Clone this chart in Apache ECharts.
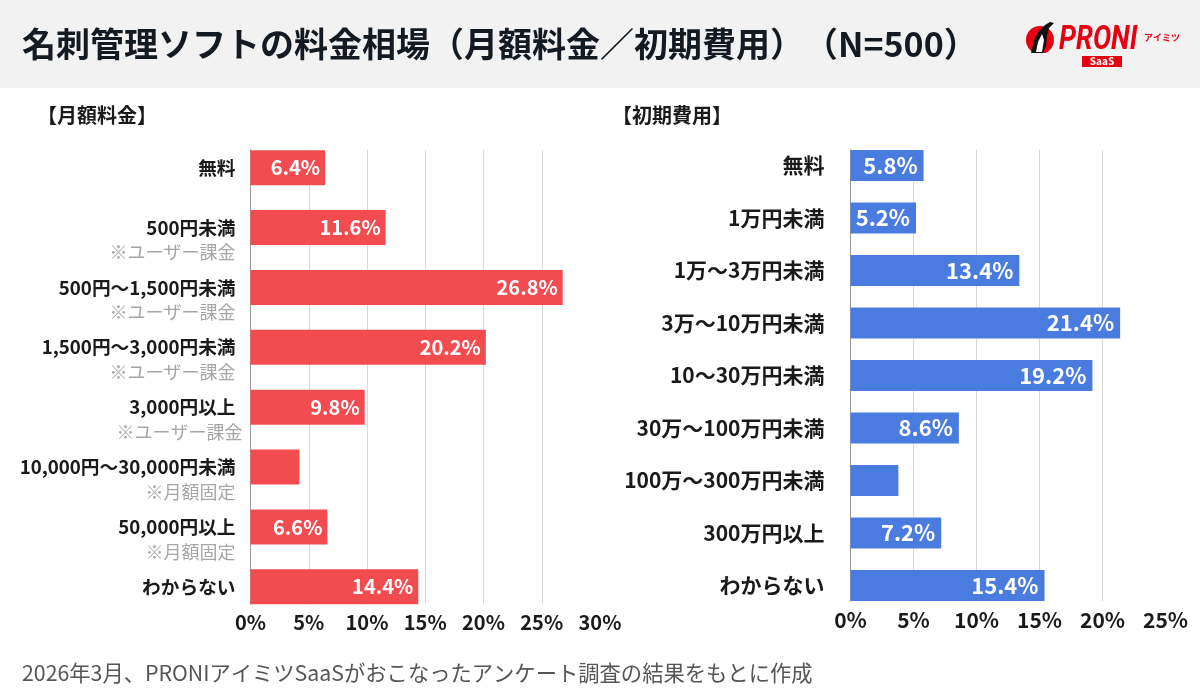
<!DOCTYPE html>
<html><head><meta charset="utf-8">
<script src="https://cdn.jsdelivr.net/npm/echarts@6/dist/echarts.min.js"></script>
<style>html,body{margin:0;padding:0;background:#fff}#c{width:1200px;height:700px}</style>
</head><body><div id="c"></div>
<script>
const FONT = "'Noto Sans CJK JP','Noto Sans',sans-serif";

// ---- data ----
const titleText = '名刺管理ソフトの料金相場（月額料金／初期費用）　（N=500）';
const leftHeading = '【月額料金】';
const rightHeading = '【初期費用】';
const footnote = '2026年3月、PRONIアイミツSaaSがおこなったアンケート調査の結果をもとに作成';

const monthlyCategories = ['無料', '500円未満', '500円～1,500円未満', '1,500円～3,000円未満', '3,000円以上', '10,000円～30,000円未満', '50,000円以上', 'わからない'];
const monthlyNotes = ['', '※ユーザー課金', '※ユーザー課金', '※ユーザー課金', '※ユーザー課金', '※月額固定', '※月額固定', ''];
const monthlyValues = [6.4, 11.6, 26.8, 20.2, 9.8, 4.2, 6.6, 14.4];
const monthlyLabelShown = [true, true, true, true, true, false, true, true];
const monthlyAxisMax = 30;

const initialCategories = ['無料', '1万円未満', '1万～3万円未満', '3万～10万円未満', '10～30万円未満', '30万～100万円未満', '100万～300万円未満', '300万円以上', 'わからない'];
const initialValues = [5.8, 5.2, 13.4, 21.4, 19.2, 8.6, 3.8, 7.2, 15.4];
const initialLabelShown = [true, true, true, true, true, true, false, true, true];
const initialAxisMax = 25;

const tickStep = 5;

// ---- styles ----
const RED = '#F34C50';
const BLUE = '#4A7BDE';
const DARK = '#1a1a1a';
const GRID = '#d9d9d9';

const chart = echarts.init(document.getElementById('c'), null, { renderer: 'canvas' });

function frameX(gridIndex, max, fontSize, margin) {
  return {
    gridIndex, type: 'value', min: 0, max, interval: tickStep, position: 'bottom',
    axisLine: { show: false, onZero: false }, axisTick: { show: false },
    axisLabel: { formatter: '{value}%', color: DARK, fontSize, fontWeight: 'bold', fontFamily: FONT, margin },
    splitLine: { show: true, showMinLine: false, showMaxLine: false, lineStyle: { color: GRID, width: 1 } }
  };
}
function frameY(gridIndex) {
  return {
    gridIndex, type: 'value', min: 0, max: 1,
    axisLine: { show: true, onZero: false, lineStyle: { color: '#9a9a9a', width: 1 } },
    axisTick: { show: false }, axisLabel: { show: false }, splitLine: { show: false }
  };
}
function barX(gridIndex, max) {
  return { gridIndex, type: 'value', min: 0, max, show: false, splitLine: { show: false } };
}

const option = {
  backgroundColor: '#ffffff',
  animation: false,
  textStyle: { fontFamily: FONT },
  grid: [
    { left: 250.5, width: 349.5, top: 137.8, height: 479 },
    { left: 250.5, width: 349.5, top: 150, height: 454.5 },
    { left: 850.5, width: 315, top: 139.25, height: 472.5 },
    { left: 850.5, width: 315, top: 150, height: 451 }
  ],
  xAxis: [
    barX(0, monthlyAxisMax),
    frameX(1, monthlyAxisMax, 20, 8),
    barX(2, initialAxisMax),
    frameX(3, initialAxisMax, 21, 9)
  ],
  yAxis: [
    {
      gridIndex: 0, type: 'category', inverse: true, data: monthlyCategories,
      axisLine: { show: false }, axisTick: { show: false },
      axisLabel: {
        margin: 8, interval: 0,
        formatter: function (val, idx) {
          const note = monthlyNotes[idx];
          if (!note) return '{m|' + val + '}';
          const st = idx === 4 ? 's2' : 's';
          return '{b| }\n{m|' + val + '}\n{' + st + '|' + note + '}';
        },
        rich: {
          b: { fontSize: 18, lineHeight: 25, fontFamily: FONT },
          m: { fontSize: 18.7, lineHeight: 25, fontWeight: 'bold', color: DARK, fontFamily: FONT, padding: [0, 7, 0, 0] },
          s: { fontSize: 18, lineHeight: 25, color: '#a6a6a6', fontFamily: FONT, padding: [0, 7, 0, 0] },
          s2: { fontSize: 18, lineHeight: 25, color: '#a6a6a6', fontFamily: FONT }
        }
      }
    },
    frameY(1),
    {
      gridIndex: 2, type: 'category', inverse: true, data: initialCategories,
      axisLine: { show: false }, axisTick: { show: false },
      axisLabel: { margin: 26, interval: 0, fontSize: 21, fontWeight: 'bold', color: DARK, fontFamily: FONT }
    },
    frameY(3)
  ],
  series: [
    {
      type: 'bar', xAxisIndex: 0, yAxisIndex: 0, barWidth: 35, z: 3,
      itemStyle: { color: RED },
      label: { show: true, position: 'insideRight', distance: 5, color: '#fff', fontSize: 20, fontWeight: 'bold', fontFamily: FONT,
               formatter: p => p.value.toFixed(1) + '%' },
      data: monthlyValues.map((v, i) => ({ value: v, label: { show: monthlyLabelShown[i] } }))
    },
    {
      type: 'bar', xAxisIndex: 2, yAxisIndex: 2, barWidth: 31, z: 3,
      itemStyle: { color: BLUE },
      label: { show: true, position: 'insideRight', distance: 6, color: '#fff', fontSize: 22, fontWeight: 'bold', fontFamily: FONT,
               formatter: p => p.value.toFixed(1) + '%' },
      data: initialValues.map((v, i) => ({ value: v, label: { show: initialLabelShown[i] } }))
    }
  ],
  graphic: [
    { type: 'rect', left: 0, top: 0, z: -10, shape: { width: 1200, height: 88 }, style: { fill: '#f2f2f2' } },
    { type: 'text', x: 22, y: 44, z: 10, style: { text: titleText, font: 'bold 34px ' + FONT, fill: '#141a22', verticalAlign: 'middle' } },
    { type: 'text', x: 37, y: 115, z: 10, style: { text: leftHeading, font: 'bold 20px ' + FONT, fill: DARK, verticalAlign: 'middle' } },
    { type: 'text', x: 612, y: 115, z: 10, style: { text: rightHeading, font: 'bold 20px ' + FONT, fill: DARK, verticalAlign: 'middle' } },
    { type: 'text', x: 22, y: 673, z: 10, style: { text: footnote, font: '21.3px ' + FONT, fill: '#555', verticalAlign: 'middle' } },
    // logo
    { type: 'circle', z: 10, shape: { cx: 1040, cy: 40, r: 14 }, style: { fill: '#e60012' } },
    { type: 'rect', z: 11, shape: { x: 1024, y: 53, width: 34, height: 6 }, style: { fill: '#f2f2f2' } },
    { type: 'polygon', z: 12, shape: { points: [[1031, 53], [1034, 40], [1039, 31], [1045, 25], [1050, 22], [1054, 23], [1049, 28], [1047, 36], [1046, 46], [1043, 53]] }, style: { fill: '#111' } },
    { type: 'polygon', z: 13, shape: { points: [[1036, 52], [1038, 42], [1042, 34], [1044, 40], [1042, 52]] }, style: { fill: '#fff' } },
    { type: 'text', x: 1059, y: 40, z: 10, scaleX: 0.8, style: { text: 'PRONI', font: 'italic bold 34px Roboto, ' + FONT, fill: '#e60012', verticalAlign: 'middle' } },
    { type: 'text', x: 1144, y: 38, z: 10, style: { text: 'アイミツ', font: 'bold 9px ' + FONT, fill: '#e60012', verticalAlign: 'middle' } },
    { type: 'rect', z: 10, shape: { x: 1082, y: 56, width: 40, height: 11 }, style: { fill: '#e60012' } },
    { type: 'text', x: 1102, y: 61.5, z: 11, style: { text: 'SaaS', font: 'bold 10px ' + FONT, fill: '#fff', align: 'center', verticalAlign: 'middle' } }
  ]
};
chart.setOption(option);
</script>
</body></html>
